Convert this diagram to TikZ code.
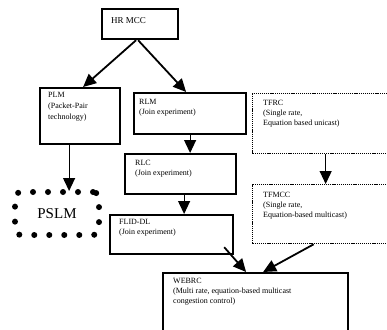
\documentclass[tikz,border=0pt]{standalone}
\usepackage{fontspec}
\setmainfont{Liberation Serif}
\usetikzlibrary{arrows.meta}
\begin{document}
\begin{tikzpicture}[x=1pt,y=-1pt,
  solidbox/.style={draw, line width=2.2pt, inner sep=0pt, anchor=north west},
  dotbox/.style={draw, line width=1.3pt, dash pattern=on 1.2pt off 0.9pt, inner sep=0pt, anchor=north west},
  txt/.style={anchor=north west, inner sep=0pt, align=left, font=\fontsize{8}{10}\selectfont},
  arr/.style={line width=1.8pt, -{Triangle[length=13pt,width=12pt]}},
  varr/.style={line width=1.2pt, -{Triangle[length=13pt,width=12pt]}}]
\clip (0,0) rectangle (387,329);
\fill[white] (0,0) rectangle (387,329);
% boxes
\node[solidbox, minimum width=76pt, minimum height=30pt] (hr) at (101,8) {};
\node[solidbox, minimum width=80pt, minimum height=56pt] (plm) at (39,87) {};
\node[solidbox, minimum width=112pt, minimum height=41pt] (rlm) at (133,92) {};
\node[dotbox, minimum width=138pt, minimum height=60pt] (tfrc) at (252,93) {};
\node[solidbox, minimum width=111pt, minimum height=40pt] (rlc) at (124,153) {};
\node[dotbox, minimum width=138pt, minimum height=59pt] (tfmcc) at (252,184) {};
\node[solidbox, minimum width=123pt, minimum height=39pt] (fl) at (109,214) {};
\node[solidbox, minimum width=185pt, minimum height=70pt] (web) at (162,272) {};
\node[draw, line width=6pt, dash pattern=on 0pt off 15pt, line cap=round, rounded corners=6pt,
      minimum width=84pt, minimum height=43pt, inner sep=0pt, anchor=north west,
      font=\fontsize{15}{15}\selectfont] (pslm) at (12,189) {PSLM};
% texts
\node[txt, anchor=west, font=\fontsize{9}{10}\selectfont] (thr) at (111,21) {HR MCC};
\node[txt] (tplm) at (48,92) {PLM\\[1pt](Packet-Pair\\[1pt]technology)};
\node[txt] (trlm) at (139,99) {RLM\\(Join experiment)};
\node[txt] (ttfrc) at (263,100) {TFRC\\(Single rate,\\Equation based unicast)};
\node[txt] (trlc) at (135,160) {RLC\\(Join experiment)};
\node[txt] (ttfmcc) at (263,192) {TFMCC\\(Single rate,\\Equation-based multicast)};
\node[txt] (tfl) at (119,219) {FLID-DL\\(Join experiment)};
\node[txt] (tweb) at (173,278) {WEBRC\\(Multi rate, equation-based multicast\\congestion control)};
% arrows
\draw[arr] ([xshift=-4pt]hr.south) -- ([xshift=3pt]plm.north);
\draw[arr] ([xshift=-2pt]hr.south) -- ([xshift=-4pt]rlm.north);
\draw[varr] (rlm.south) -- (rlm.south |- rlc.north);
\draw[varr] ([xshift=4pt]tfrc.south) -- ([xshift=4pt]tfmcc.north);
\draw[varr] ([xshift=-11pt]plm.south) -- ([xshift=-11pt,yshift=-2pt]plm.south |- pslm.north);
\draw[varr] ([xshift=3.5pt]rlc.south) -- ([xshift=3.5pt]rlc.south |- fl.north);
\draw[arr] ([xshift=-10pt,yshift=8pt]fl.south east) -- ([xshift=-9.5pt]web.north);
\draw[arr] ([xshift=-8pt]tfmcc.south) -- ([xshift=7.5pt]web.north);
\end{tikzpicture}
\end{document}
